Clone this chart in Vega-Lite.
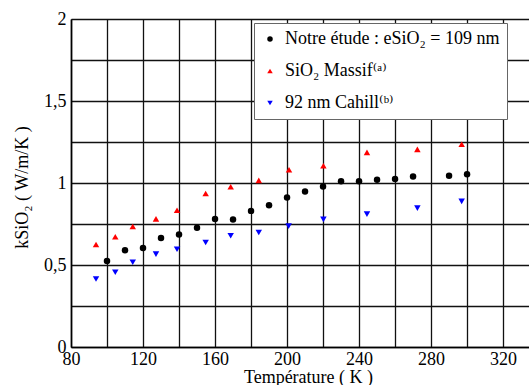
{
  "$schema": "https://vega.github.io/schema/vega-lite/v6.json",
  "autosize": {"type": "none"},
  "width": 458,
  "height": 328,
  "padding": {"left": 71, "top": 19, "right": 0, "bottom": 38},
  "background": "white",
  "config": {
    "view": {"stroke": null},
    "font": "Liberation Serif, DejaVu Serif, serif",
    "axis": {"labelFont": "Liberation Serif, DejaVu Serif, serif", "titleFont": "Liberation Serif, DejaVu Serif, serif", "labelFontSize": 18, "titleFontSize": 18, "labelColor": "black", "titleColor": "black", "titleFontWeight": "normal", "grid": true, "gridColor": "#111111", "gridWidth": 1.3, "gridOpacity": 1, "domainColor": "black", "domainWidth": 1.6, "ticks": false},
    "legend": {"labelFont": "Liberation Serif, DejaVu Serif, serif"}
  },
  "data": {
    "values": [
      {"T": 100, "k": 0.525, "s": "Notre étude : eSiO₂ = 109 nm"},
      {"T": 110, "k": 0.59, "s": "Notre étude : eSiO₂ = 109 nm"},
      {"T": 120, "k": 0.604, "s": "Notre étude : eSiO₂ = 109 nm"},
      {"T": 130, "k": 0.665, "s": "Notre étude : eSiO₂ = 109 nm"},
      {"T": 140, "k": 0.686, "s": "Notre étude : eSiO₂ = 109 nm"},
      {"T": 150, "k": 0.727, "s": "Notre étude : eSiO₂ = 109 nm"},
      {"T": 160, "k": 0.781, "s": "Notre étude : eSiO₂ = 109 nm"},
      {"T": 170, "k": 0.778, "s": "Notre étude : eSiO₂ = 109 nm"},
      {"T": 180, "k": 0.83, "s": "Notre étude : eSiO₂ = 109 nm"},
      {"T": 190, "k": 0.865, "s": "Notre étude : eSiO₂ = 109 nm"},
      {"T": 200, "k": 0.911, "s": "Notre étude : eSiO₂ = 109 nm"},
      {"T": 210, "k": 0.948, "s": "Notre étude : eSiO₂ = 109 nm"},
      {"T": 220, "k": 0.978, "s": "Notre étude : eSiO₂ = 109 nm"},
      {"T": 230, "k": 1.01, "s": "Notre étude : eSiO₂ = 109 nm"},
      {"T": 240, "k": 1.01, "s": "Notre étude : eSiO₂ = 109 nm"},
      {"T": 250, "k": 1.02, "s": "Notre étude : eSiO₂ = 109 nm"},
      {"T": 260, "k": 1.024, "s": "Notre étude : eSiO₂ = 109 nm"},
      {"T": 270, "k": 1.04, "s": "Notre étude : eSiO₂ = 109 nm"},
      {"T": 290, "k": 1.044, "s": "Notre étude : eSiO₂ = 109 nm"},
      {"T": 300, "k": 1.054, "s": "Notre étude : eSiO₂ = 109 nm"},
      {"T": 93.9, "k": 0.625, "s": "SiO₂  Massif⁽ᵃ⁾"},
      {"T": 104.6, "k": 0.672, "s": "SiO₂  Massif⁽ᵃ⁾"},
      {"T": 114.3, "k": 0.735, "s": "SiO₂  Massif⁽ᵃ⁾"},
      {"T": 127.2, "k": 0.781, "s": "SiO₂  Massif⁽ᵃ⁾"},
      {"T": 138.9, "k": 0.834, "s": "SiO₂  Massif⁽ᵃ⁾"},
      {"T": 154.8, "k": 0.936, "s": "SiO₂  Massif⁽ᵃ⁾"},
      {"T": 168.7, "k": 0.977, "s": "SiO₂  Massif⁽ᵃ⁾"},
      {"T": 184.3, "k": 1.016, "s": "SiO₂  Massif⁽ᵃ⁾"},
      {"T": 201.1, "k": 1.081, "s": "SiO₂  Massif⁽ᵃ⁾"},
      {"T": 220.2, "k": 1.105, "s": "SiO₂  Massif⁽ᵃ⁾"},
      {"T": 244.4, "k": 1.187, "s": "SiO₂  Massif⁽ᵃ⁾"},
      {"T": 272.4, "k": 1.205, "s": "SiO₂  Massif⁽ᵃ⁾"},
      {"T": 297, "k": 1.236, "s": "SiO₂  Massif⁽ᵃ⁾"},
      {"T": 93.9, "k": 0.415, "s": "92 nm Cahill⁽ᵇ⁾"},
      {"T": 104.6, "k": 0.456, "s": "92 nm Cahill⁽ᵇ⁾"},
      {"T": 114.3, "k": 0.517, "s": "92 nm Cahill⁽ᵇ⁾"},
      {"T": 127.2, "k": 0.566, "s": "92 nm Cahill⁽ᵇ⁾"},
      {"T": 138.9, "k": 0.596, "s": "92 nm Cahill⁽ᵇ⁾"},
      {"T": 154.8, "k": 0.637, "s": "92 nm Cahill⁽ᵇ⁾"},
      {"T": 168.7, "k": 0.678, "s": "92 nm Cahill⁽ᵇ⁾"},
      {"T": 184.3, "k": 0.698, "s": "92 nm Cahill⁽ᵇ⁾"},
      {"T": 200.9, "k": 0.737, "s": "92 nm Cahill⁽ᵇ⁾"},
      {"T": 220.2, "k": 0.778, "s": "92 nm Cahill⁽ᵇ⁾"},
      {"T": 244.4, "k": 0.81, "s": "92 nm Cahill⁽ᵇ⁾"},
      {"T": 272.4, "k": 0.847, "s": "92 nm Cahill⁽ᵇ⁾"},
      {"T": 297, "k": 0.888, "s": "92 nm Cahill⁽ᵇ⁾"}
    ]
  },
  "mark": {"type": "point", "filled": true, "opacity": 1, "size": 42, "clip": false},
  "encoding": {
    "x": {
      "field": "T", "type": "quantitative",
      "scale": {"domain": [80, 334.4], "nice": false, "zero": false},
      "axis": {
        "values": [80, 100, 120, 140, 160, 180, 200, 220, 240, 260, 280, 300, 320],
        "labelExpr": "(datum.value - 80) % 40 === 0 ? datum.label : ''",
        "labelOverlap": false, "labelFlush": false, "labelBound": false,
        "labelPadding": 3,
        "title": "Température ( K )",
        "titleX": 237, "titleY": 35, "titleAlign": "center", "titleBaseline": "alphabetic"
      }
    },
    "y": {
      "field": "k", "type": "quantitative",
      "scale": {"domain": [0, 2], "nice": false},
      "axis": {
        "values": [0, 0.25, 0.5, 0.75, 1, 1.25, 1.5, 1.75, 2],
        "labelExpr": "datum.value % 0.5 === 0 ? replace(format(datum.value, ''), '.', ',') : ''",
        "labelOverlap": false, "labelBound": false, "labelPadding": 5,
        "title": "kSiO₂ ( W/m/K )",
        "titleX": -44, "titleY": 168, "titleAngle": -90, "titleAlign": "center", "titleBaseline": "alphabetic"
      }
    },
    "color": {
      "field": "s", "type": "nominal",
      "scale": {"domain": ["Notre étude : eSiO₂ = 109 nm", "SiO₂  Massif⁽ᵃ⁾", "92 nm Cahill⁽ᵇ⁾"], "range": ["black", "#ff0000", "#0000ff"]},
      "legend": {
        "title": null, "orient": "none", "legendX": 183, "legendY": 4,
        "fillColor": "white", "strokeColor": "#666666",
        "padding": 7, "rowPadding": 14,
        "labelFontSize": 18, "labelColor": "black", "labelLimit": 400,
        "symbolSize": 30, "symbolStrokeWidth": 0, "labelOffset": 6, "offset": 0
      }
    },
    "shape": {
      "field": "s", "type": "nominal",
      "scale": {"domain": ["Notre étude : eSiO₂ = 109 nm", "SiO₂  Massif⁽ᵃ⁾", "92 nm Cahill⁽ᵇ⁾"], "range": ["circle", "triangle-up", "triangle-down"]},
      "legend": {
        "title": null, "orient": "none", "legendX": 183, "legendY": 4,
        "fillColor": "white", "strokeColor": "#666666",
        "padding": 7, "rowPadding": 14,
        "labelFontSize": 18, "labelColor": "black", "labelLimit": 400,
        "symbolSize": 30, "symbolStrokeWidth": 0, "labelOffset": 6, "offset": 0
      }
    }
  }
}
